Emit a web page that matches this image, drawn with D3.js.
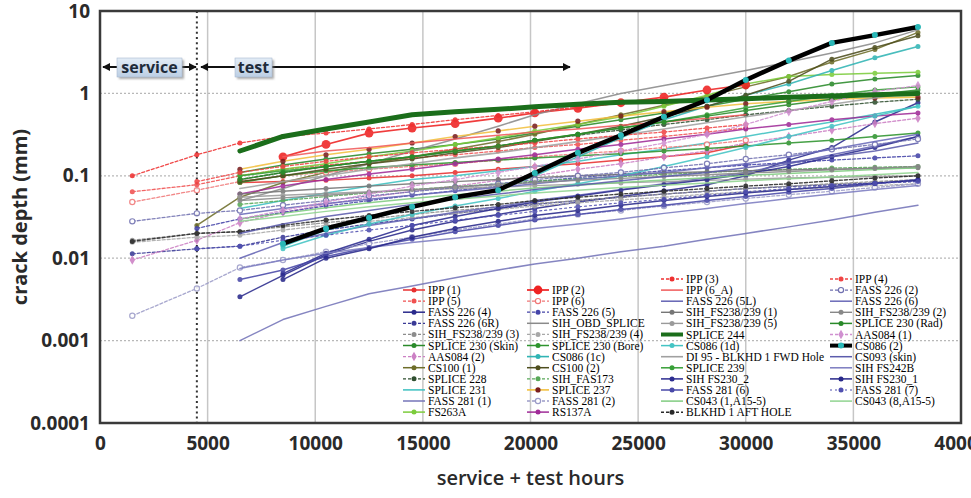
<!DOCTYPE html>
<html><head><meta charset="utf-8">
<script src="https://cdn.jsdelivr.net/npm/d3@7"></script>
<style>body{margin:0;background:#fff}svg{display:block}</style>
</head><body><svg id="c" width="971" height="498"></svg>
<script>
const _ = null;
const hours = [1500,4500,6500,8500,10500,12500,14500,16500,18500,20200,22200,24200,26200,28200,30000,32000,34000,36000,38000];
const xTicks = [0,5000,10000,15000,20000,25000,30000,35000,40000];
const yTicks = [0.0001,0.001,0.01,0.1,1,10];
const yTickLabels = ["0.0001","0.001","0.01","0.1","1","10"];
const serviceEnd = 4500;
const legendColumnSizes = [12,12,13,12];

const seriesNames = [
 "IPP (1)","IPP (5)","FASS 226 (4)","FASS 226 (6R)","SIH_FS238/239 (3)","SPLICE 230 (Skin)","AAS084 (2)","CS100 (1)","SPLICE 228","SPLICE 231","FASS 281 (1)","FS263A",
 "IPP (2)","IPP (6)","FASS 226 (5)","SIH_OBD_SPLICE","SIH_FS238/239 (4)","SPLICE 230 (Bore)","CS086 (1c)","CS100 (2)","SIH_FAS173","SPLICE 237","FASS 281 (2)","RS137A",
 "IPP (3)","IPP (6_A)","FASS 226 (5L)","SIH_FS238/239 (1)","SIH_FS238/239 (5)","SPLICE 244","CS086 (1d)","DI 95 - BLKHD 1 FWD Hole","SPLICE 239","SIH FS230_2","FASS 281 (6)","CS043 (1,A15-5)","BLKHD 1 AFT HOLE",
 "IPP (4)","FASS 226 (2)","FASS 226 (6)","SIH_FS238/239 (2)","SPLICE 230 (Rad)","AAS084 (1)","CS086 (2)","CS093 (skin)","SIH FS242B","SIH FS230_1","FASS 281 (7)","CS043 (8,A15-5)"
];

const seriesValues = [
 [_,_,0.083,0.085,0.088,0.094,0.10,0.11,0.12,0.13,0.14,0.155,0.17,0.19,0.24,_,_,_,_],
 [0.064,0.078,0.10,0.12,0.135,0.15,0.165,0.18,0.2,0.22,0.24,0.27,0.3,0.34,0.38,_,_,_,_],
 [_,_,0.0034,0.0062,0.011,0.016,0.022,0.028,0.034,0.04,0.048,0.056,0.066,0.078,0.10,0.155,0.22,0.45,0.77],
 [0.0113,0.013,0.014,0.018,0.022,0.026,0.03,0.035,0.04,0.045,0.05,0.055,0.06,0.065,0.07,0.074,0.078,0.082,0.086],
 [0.0165,0.02,0.021,0.024,0.027,0.03,0.034,0.038,0.042,0.046,0.05,0.055,0.06,0.065,0.07,0.075,0.08,0.085,0.09],
 [_,_,0.11,0.135,0.16,0.185,0.21,0.24,0.28,0.33,0.4,0.48,0.58,0.7,0.85,1.05,1.3,1.5,1.65],
 [0.0095,0.0165,0.027,0.036,0.045,0.055,0.065,0.075,0.088,0.1,0.12,0.14,0.17,0.2,0.25,0.3,0.36,0.43,0.5],
 [_,0.025,0.055,0.083,0.11,0.14,0.17,0.21,0.26,0.32,0.42,0.55,0.72,0.92,1.2,1.6,2.4,3.4,5.5],
 [_,_,0.09,0.11,0.13,0.15,0.17,0.2,0.23,0.27,0.31,0.36,0.42,0.48,0.55,0.62,0.7,0.78,0.85],
 [_,_,0.04,0.05,0.062,0.075,0.09,0.1,0.115,0.13,0.15,0.18,0.21,0.25,0.3,0.37,0.45,0.56,0.7],
 [_,_,0.001,0.0018,0.0026,0.0037,0.0046,0.0058,0.0072,0.0085,0.01,0.012,0.014,0.017,0.02,0.024,0.029,0.036,0.044],
 [_,_,0.1,0.12,0.14,0.17,0.2,0.24,0.29,0.35,0.42,0.52,0.7,0.95,1.3,1.6,1.7,1.75,1.8],
 [_,_,_,0.17,0.24,0.33,0.38,0.43,0.5,0.58,0.66,0.77,0.9,1.1,1.27,_,_,_,_],
 [0.048,0.067,0.085,0.1,0.11,0.12,0.13,0.14,0.155,0.17,0.185,0.2,0.22,0.24,0.27,_,_,_,_],
 [_,0.023,0.03,0.036,0.043,0.05,0.058,0.066,0.075,0.085,0.095,0.105,0.115,0.125,0.135,0.145,0.155,0.165,0.175],
 [_,_,0.05,0.07,0.1,0.14,0.2,0.28,0.4,0.55,0.75,1.0,1.25,1.55,1.9,2.4,3.1,4.1,5.9],
 [0.0156,0.018,0.019,0.022,0.025,0.028,0.031,0.035,0.039,0.043,0.047,0.051,0.055,0.06,0.064,0.068,0.072,0.076,0.08],
 [_,_,0.083,0.1,0.115,0.125,0.135,0.145,0.155,0.165,0.175,0.185,0.2,0.215,0.23,0.25,0.27,0.3,0.33],
 [_,_,_,0.014,0.022,0.03,0.041,0.054,0.066,0.1,0.17,0.29,0.48,0.7,0.95,1.3,1.9,2.7,3.7],
 [_,_,0.085,0.1,0.12,0.14,0.16,0.19,0.22,0.26,0.32,0.4,0.52,0.7,0.95,1.4,2.6,3.6,5.0],
 [_,_,0.045,0.05,0.056,0.062,0.068,0.074,0.08,0.086,0.092,0.098,0.104,0.11,0.115,0.12,0.124,0.127,0.13],
 [_,_,0.12,0.15,0.18,0.21,0.25,0.3,0.35,0.4,0.46,0.53,0.6,0.68,0.75,0.8,0.85,0.88,0.9],
 [0.002,0.0043,0.0077,0.0095,0.012,0.015,0.018,0.022,0.026,0.03,0.034,0.038,0.043,0.048,0.053,0.059,0.065,0.072,0.08],
 [_,_,0.06,0.075,0.09,0.105,0.12,0.14,0.16,0.18,0.21,0.24,0.28,0.32,0.37,0.42,0.48,0.53,0.58],
 [0.1,0.18,0.25,0.3,0.33,0.37,0.42,0.48,0.54,0.6,0.68,0.76,0.85,_,_,_,_,_,_],
 [_,_,_,0.17,0.2,0.22,0.25,0.28,0.31,0.34,0.37,0.41,0.45,0.5,0.55,_,_,_,_],
 [_,_,0.01,0.0155,0.02,0.025,0.03,0.036,0.042,0.05,0.058,0.068,0.08,0.095,0.11,0.14,0.18,0.23,0.3],
 [_,_,0.06,0.065,0.07,0.075,0.08,0.085,0.09,0.095,0.1,0.104,0.108,0.112,0.115,0.118,0.12,0.123,0.125],
 [_,_,0.055,0.058,0.061,0.064,0.067,0.07,0.073,0.076,0.079,0.082,0.085,0.088,0.091,0.094,0.096,0.098,0.1],
 [_,_,0.2,0.3,0.37,0.45,0.55,0.6,0.64,0.69,0.74,0.78,0.8,0.83,0.86,0.9,0.93,0.96,1.0],
 [_,_,_,0.013,0.019,0.026,0.034,0.043,0.053,0.065,0.08,0.1,0.13,0.17,0.22,0.3,0.4,0.53,0.7],
 [_,_,0.07,0.085,0.1,0.12,0.14,0.165,0.19,0.22,0.26,0.31,0.37,0.44,0.52,0.62,0.74,0.88,1.05],
 [_,_,0.1,0.115,0.13,0.15,0.17,0.2,0.23,0.27,0.32,0.38,0.45,0.55,0.67,0.8,0.95,1.1,1.2],
 [_,_,_,0.0065,0.0115,0.017,0.025,0.032,0.04,0.048,0.057,0.067,0.078,0.09,0.105,0.13,0.17,0.22,0.3],
 [_,_,0.0055,0.0072,0.0105,0.0135,0.017,0.021,0.025,0.029,0.034,0.039,0.044,0.05,0.056,0.063,0.07,0.08,0.09],
 [_,_,0.03,0.035,0.041,0.047,0.053,0.059,0.065,0.071,0.077,0.083,0.089,0.095,0.101,0.107,0.113,0.119,0.125],
 [0.016,0.02,0.021,0.025,0.029,0.033,0.037,0.041,0.045,0.05,0.055,0.06,0.065,0.07,0.075,0.08,0.087,0.094,0.1],
 [_,0.085,0.11,0.13,0.15,0.17,0.19,0.21,0.23,0.25,0.28,0.31,0.34,0.38,0.42,_,_,_,_],
 [0.028,0.035,0.038,0.044,0.05,0.057,0.064,0.072,0.08,0.09,0.1,0.11,0.125,0.14,0.16,0.18,0.21,0.24,0.28],
 [_,_,0.034,0.04,0.046,0.052,0.058,0.065,0.072,0.08,0.09,0.1,0.11,0.125,0.14,0.17,0.21,0.26,0.32],
 [_,_,0.05,0.054,0.058,0.063,0.068,0.073,0.078,0.083,0.088,0.093,0.098,0.103,0.108,0.113,0.118,0.124,0.13],
 [_,_,0.09,0.11,0.13,0.15,0.17,0.2,0.23,0.27,0.32,0.38,0.45,0.53,0.62,0.73,0.85,0.97,1.1],
 [_,_,0.03,0.038,0.048,0.06,0.075,0.09,0.11,0.13,0.16,0.2,0.25,0.32,0.42,0.6,0.8,1.05,1.25],
 [_,_,_,0.015,0.023,0.031,0.042,0.055,0.067,0.108,0.19,0.31,0.52,0.83,1.45,2.5,4.1,5.1,6.4],
 [_,_,0.02,0.026,0.032,0.038,0.045,0.052,0.06,0.068,0.077,0.087,0.098,0.11,0.125,0.145,0.17,0.2,0.25],
 [_,_,0.0075,0.0095,0.0115,0.0135,0.0155,0.0175,0.02,0.023,0.026,0.03,0.035,0.04,0.046,0.053,0.06,0.068,0.076],
 [_,_,_,0.0055,0.01,0.013,0.018,0.023,0.028,0.033,0.038,0.044,0.05,0.056,0.062,0.068,0.074,0.081,0.088],
 [_,0.013,0.014,0.0165,0.019,0.022,0.025,0.029,0.033,0.037,0.042,0.047,0.052,0.058,0.064,0.07,0.076,0.081,0.085],
 [_,_,0.028,0.032,0.037,0.042,0.047,0.052,0.057,0.062,0.067,0.072,0.077,0.082,0.087,0.092,0.097,0.103,0.11]
];

// styles: [colour, dash, marker, width]
const seriesStyles = [
 ['#e83030',null,'c',1.5],['#f05050','3,2','c',1.3],['#2a2a8c',null,'c',1.5],['#3a3a96','3,2','c',1.3],['#8c8c8c','3,2','c',1.3],['#2a8a2a',null,'c',1.5],['#cc80c4','3,2','d',1.3],['#6e6e2a',null,'c',1.5],['#2f4f2f','3,2','c',1.3],['#3cc0c0',null,'n',1.5],['#7474b8',null,'n',1.5],['#7ccc3c',null,'c',1.5],
 ['#ee2222',null,'C',1.7],['#f07878','3,2','o',1.3],['#4444a8','3,2','c',1.3],['#8a8a8a',null,'n',1.5],['#a8a8a8','3,2','c',1.3],['#2e942e',null,'c',1.5],['#30b4b4',null,'c',1.6],['#4e4e1e',null,'c',1.5],['#58a858','3,2','c',1.3],['#f2c040',null,'y',1.6],['#9c9cc8','3,2','o',1.3],['#a02c98',null,'c',1.5],
 ['#ee3030','3,2','c',1.3],['#f05a5a',null,'n',1.5],['#6464b4',null,'n',1.5],['#767676',null,'c',1.4],['#9a9a9a',null,'c',1.4],['#1b6e1b',null,'n',5],['#44c4c4',null,'c',1.5],['#a0a0a0',null,'n',1.6],['#38a038',null,'c',1.5],['#2c2c90',null,'c',1.5],['#4848a8',null,'c',1.5],['#80cc80',null,'n',1.5],['#2a2a2a','3,2','c',1.4],
 ['#f04444','3,2','c',1.3],['#7070b0','3,2','o',1.3],['#6a6ab8',null,'n',1.5],['#888888',null,'c',1.4],['#2a8a2a',null,'c',1.5],['#d090d0','3,2','d',1.3],['#000000',null,'k',4.5],['#5c5cac',null,'n',1.5],['#7c7cc0',null,'n',1.5],['#28288a',null,'c',1.5],['#5050b0','2,3','c',1.2],['#90d490',null,'n',1.5]
];

const svg = d3.select('#c');
const L=100,R=961,T=11,B=423;
const x = d3.scaleLinear().domain([0,40000]).range([L,R]);
const y = d3.scaleLog().domain([0.0001,10]).range([B,T]);

const defs = svg.append('defs');
defs.append('clipPath').attr('id','clip').append('rect').attr('x',L).attr('y',T).attr('width',R-L).attr('height',B-T);
const sh = defs.append('filter').attr('id','shadow').attr('x','-20%').attr('y','-30%').attr('width','150%').attr('height','180%');
sh.append('feGaussianBlur').attr('stdDeviation',1.2);
const gr = defs.append('linearGradient').attr('id','boxg').attr('x1',0).attr('y1',0).attr('x2',0).attr('y2',1);
gr.append('stop').attr('offset','0%').attr('stop-color','#e3ecf6');
gr.append('stop').attr('offset','100%').attr('stop-color','#bccfe4');
defs.append('marker').attr('id','ah').attr('viewBox','0 0 10 10').attr('refX',9).attr('refY',5)
  .attr('markerWidth',4).attr('markerHeight',4).attr('orient','auto-start-reverse')
  .append('path').attr('d','M0,0L10,5L0,10z').attr('fill','#111');

// grid
svg.append('g').selectAll('line').data(xTicks.slice(1,-1)).join('line')
  .attr('x1',d=>x(d)).attr('x2',d=>x(d)).attr('y1',T).attr('y2',B)
  .attr('stroke','#c6c6c6').attr('stroke-width',1.5);
svg.append('g').selectAll('line').data(yTicks.slice(1,-1)).join('line')
  .attr('x1',L).attr('x2',R).attr('y1',d=>y(d)).attr('y2',d=>y(d))
  .attr('stroke','#b8b8b8').attr('stroke-width',1.2).attr('stroke-dasharray','2,2');

// service/test boundary
svg.append('line').attr('x1',x(serviceEnd)).attr('x2',x(serviceEnd)).attr('y1',T).attr('y2',B)
  .attr('stroke','#333').attr('stroke-width',2).attr('stroke-dasharray','2,3.2');

// series
const plot = svg.append('g').attr('clip-path','url(#clip)');
const line = d3.line().defined(d=>d[1]!=null).x(d=>x(d[0])).y(d=>y(d[1]));
const order = d3.range(seriesNames.length).filter(i=>seriesStyles[i][3]<4)
  .concat(d3.range(seriesNames.length).filter(i=>seriesStyles[i][3]>=4));

function drawMarker(g, m, col, cx, cy){
  if (m==='n') return;
  if (m==='c') g.append('circle').attr('cx',cx).attr('cy',cy).attr('r',2.5).attr('fill',col);
  else if (m==='C') g.append('circle').attr('cx',cx).attr('cy',cy).attr('r',4.4).attr('fill',col);
  else if (m==='o') g.append('circle').attr('cx',cx).attr('cy',cy).attr('r',2.6).attr('fill','#fff').attr('stroke',col).attr('stroke-width',1.2);
  else if (m==='d') g.append('path').attr('d',d3.symbol(d3.symbolDiamond,26)()).attr('transform',`translate(${cx},${cy})`).attr('fill',col);
  else if (m==='y') g.append('circle').attr('cx',cx).attr('cy',cy).attr('r',2.6).attr('fill','#7a1e1e');
  else if (m==='k') g.append('circle').attr('cx',cx).attr('cy',cy).attr('r',3).attr('fill','#2ab8b8');
}

order.forEach(i=>{
  const [col,dash,m,w] = seriesStyles[i];
  const pts = hours.map((h,j)=>[h, seriesValues[i][j]]);
  const g = plot.append('g').attr('opacity',w>=4?1:0.88);
  g.append('path').attr('d',line(pts)).attr('fill','none').attr('stroke',col)
    .attr('stroke-width',w).attr('stroke-dasharray',dash).attr('stroke-linejoin','round').attr('stroke-linecap','round');
  pts.filter(d=>d[1]!=null).forEach(d=>drawMarker(g,m,col,x(d[0]),y(d[1])));
});

// frame
svg.append('rect').attr('x',L).attr('y',T).attr('width',R-L).attr('height',B-T)
  .attr('fill','none').attr('stroke','#3a3a3a').attr('stroke-width',2.5);

// axes
const xa = svg.append('g').attr('transform',`translate(0,${B})`)
  .call(d3.axisBottom(x).tickValues(xTicks).tickSize(0).tickPadding(14).tickFormat(d3.format('d')));
const ya = svg.append('g').attr('transform',`translate(${L},0)`)
  .call(d3.axisLeft(y).tickValues(yTicks).tickSize(0).tickPadding(10).tickFormat((d,i)=>yTickLabels[i]));
[xa,ya].forEach(a=>{
  a.select('.domain').remove();
  a.selectAll('text').attr('font-family','"Open Sans", sans-serif').attr('font-weight',700)
    .attr('font-size',19).attr('fill','#2a2a2a');
});

// titles
svg.append('text').attr('x',(L+R)/2).attr('y',485).attr('text-anchor','middle')
  .attr('font-family','"Open Sans", sans-serif').attr('font-weight',600).attr('font-size',20).attr('fill','#2a2a2a')
  .text('service + test hours');
svg.append('text').attr('transform',`translate(27,${(T+B)/2}) rotate(-90)`).attr('text-anchor','middle')
  .attr('font-family','"Open Sans", sans-serif').attr('font-weight',700).attr('font-size',20).attr('fill','#2a2a2a')
  .text('crack depth (mm)');

// legend
const legX = [428,552,686,855];
const legY0 = [290,290,279,279];
const rowGap = 11.1;
const leg = svg.append('g');
let idx = 0;
legendColumnSizes.forEach((n,c)=>{
  for (let r=0;r<n;r++,idx++){
    const [col,dash,m,w] = seriesStyles[idx];
    const ly = legY0[c] + r*rowGap;
    const tx = legX[c];
    const g = leg.append('g');
    g.append('line').attr('x1',tx-25).attr('x2',tx-3).attr('y1',ly).attr('y2',ly)
      .attr('stroke',col).attr('stroke-width',Math.min(w,4)).attr('stroke-dasharray',dash);
    drawMarker(g,m,col,tx-14,ly);
    g.append('text').attr('x',tx).attr('y',ly).attr('dy','0.35em')
      .attr('font-family','"Liberation Serif", "Times New Roman", serif').attr('font-size',11.5).attr('fill','#000')
      .text(seriesNames[idx]);
  }
});

// annotations
const ann = svg.append('g');
const arrowY = 67;
function arrow(x1,x2){
  ann.append('line').attr('x1',x1).attr('x2',x2).attr('y1',arrowY).attr('y2',arrowY)
    .attr('stroke','#111').attr('stroke-width',2).attr('marker-end','url(#ah)');
}
arrow(117,103); arrow(182,196); arrow(235,201); arrow(272,570);
function box(x0,x1,label){
  ann.append('rect').attr('x',x0+2).attr('y',58+2).attr('width',x1-x0).attr('height',19).attr('fill','#777').attr('opacity',0.6).attr('filter','url(#shadow)');
  ann.append('rect').attr('x',x0).attr('y',58).attr('width',x1-x0).attr('height',19).attr('fill','url(#boxg)').attr('stroke','#a8bad0').attr('stroke-width',0.6);
  ann.append('text').attr('x',(x0+x1)/2).attr('y',67.5).attr('dy','0.35em').attr('text-anchor','middle')
    .attr('font-family','"Open Sans", sans-serif').attr('font-weight',700).attr('font-size',16).attr('fill','#1e2b3a').text(label);
}
box(117,182,'service');
box(235,272,'test');
</script></body></html>
